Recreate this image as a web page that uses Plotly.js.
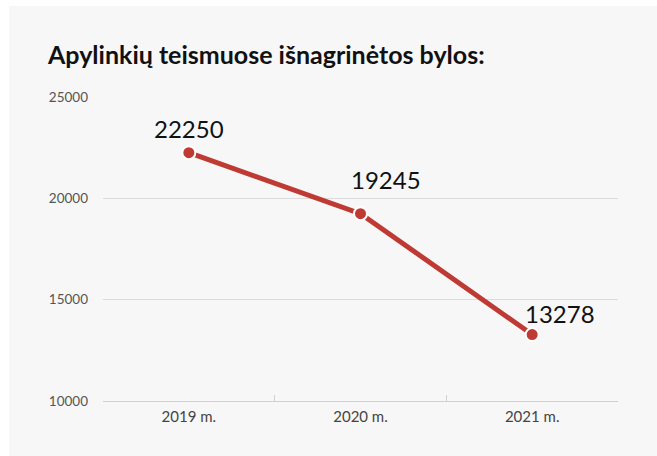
<!DOCTYPE html>
<html>
<head>
<meta charset="utf-8">
<script src="https://cdn.plot.ly/plotly-3.0.1.min.js"></script>
<style>
  html, body { margin: 0; padding: 0; background: #ffffff; }
  #chart { position: absolute; left: 9px; top: 6px; width: 648px; height: 450px; }
</style>
</head>
<body>
<div id="chart"></div>
<script>
// Apylinkių teismuose išnagrinėtos bylos
const years  = ["2019 m.", "2020 m.", "2021 m."];
const cases  = [22250, 19245, 13278];
const yTicks = [10000, 15000, 20000, 25000];

const RED = "#bf3a33";
const LABEL_FONT = "Lato, 'Open Sans', sans-serif";

// label offsets per point (pixels), matches the reference placement
const labelShift = [[0, 24], [25, 34], [28, 21]];

const trace = {
  x: years,
  y: cases,
  type: "scatter",
  mode: "lines+markers",
  line: { color: RED, width: 5 },
  marker: { color: RED, size: 13, line: { color: "#ffffff", width: 2 } },
  hoverinfo: "x+y",
};

const annotations = years.map((yr, i) => ({
  x: yr, y: cases[i], xref: "x", yref: "y",
  text: String(cases[i]),
  showarrow: false,
  xshift: labelShift[i][0], yshift: labelShift[i][1],
  font: { family: LABEL_FONT, size: 24, color: "#111111" },
}));

const layout = {
  width: 648, height: 450,
  paper_bgcolor: "#f7f7f7",
  plot_bgcolor: "#f7f7f7",
  margin: { l: 94, r: 39, t: 91, b: 55 },
  showlegend: false,
  title: {
    text: "<b>Apylinkių teismuose išnagrinėtos bylos:</b>",
    font: { family: LABEL_FONT, size: 25, color: "#111111" },
    xref: "container", x: 39 / 648, xanchor: "left",
    yref: "container", y: 1 - 49 / 450, yanchor: "middle",
  },
  xaxis: {
    type: "category",
    range: [-0.5, years.length - 0.5],
    showgrid: false,
    showline: true, linecolor: "#d0d0d0", linewidth: 1,
    ticks: "inside", tickson: "boundaries", ticklen: 6, tickcolor: "#d0d0d0",
    ticklabelstandoff: 2,
    tickfont: { family: LABEL_FONT, size: 15, color: "#444444" },
    fixedrange: true,
  },
  yaxis: {
    range: [10000, 25000],
    tickvals: yTicks,
    ticktext: yTicks.map(String),
    showgrid: true, gridcolor: "#dcdcdc", gridwidth: 1,
    zeroline: false, showline: false,
    ticks: "", ticklabelstandoff: 14,
    tickfont: { family: LABEL_FONT, size: 13.5, color: "#555555" },
    fixedrange: true,
  },
  annotations,
};

Plotly.newPlot("chart", [trace], layout, { displayModeBar: false, staticPlot: true });
</script>
</body>
</html>
